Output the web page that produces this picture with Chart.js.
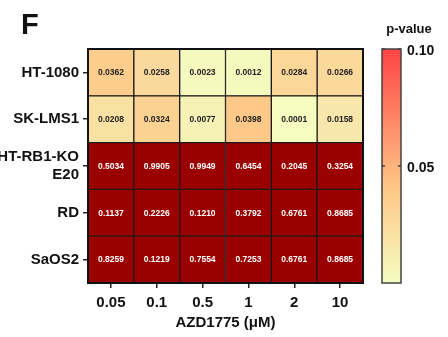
<!DOCTYPE html>
<html>
<head>
<meta charset="utf-8">
<script src="https://cdn.jsdelivr.net/npm/chart.js@4.4.1/dist/chart.umd.min.js"></script>
<style>
  html, body { margin: 0; padding: 0; background: #fff; }
  #wrap { width: 448px; height: 337px; }
</style>
</head>
<body>
<div id="wrap"><canvas id="heat" width="448" height="337"></canvas></div>
<script>
// doses on the x axis, cell lines on the y axis (top to bottom)
var doses = ['0.05', '0.1', '0.5', '1', '2', '10'];
var cellLines = ['HT-1080', 'SK-LMS1', ['HT-RB1-KO', 'E20'], 'RD', 'SaOS2'];

// p-values per cell line, one per dose
var pHT1080 = [0.0362, 0.0258, 0.0023, 0.0012, 0.0284, 0.0266];
var pSKLMS1 = [0.0208, 0.0324, 0.0077, 0.0398, 0.0001, 0.0158];
var pHTRB1KO = [0.5034, 0.9905, 0.9949, 0.6454, 0.2045, 0.3254];
var pRD = [0.1137, 0.2226, 0.1210, 0.3792, 0.6761, 0.8685];
var pSaOS2 = [0.8259, 0.1219, 0.7554, 0.7253, 0.6761, 0.8685];

// colour scale
var scaleMax = 0.10;
var scaleTicks = [0.05, 0.10];
var stopValues = [0, 0.04, 0.10];
var stopColors = ['#f4fcc0', '#fec888', '#ff4444'];
var overColor = '#9b0000';

var rows = [pHT1080, pSKLMS1, pHTRB1KO, pRD, pSaOS2];

function hexToRgb(h) {
    return [parseInt(h.substr(1, 2), 16), parseInt(h.substr(3, 2), 16), parseInt(h.substr(5, 2), 16)];
}

function pColor(p) {
    if (p > scaleMax) return overColor;
    for (let i = 1; i < stopValues.length; i++) {
        if (p <= stopValues[i]) {
            let t = (p - stopValues[i - 1]) / (stopValues[i] - stopValues[i - 1]);
            let a = hexToRgb(stopColors[i - 1]);
            let b = hexToRgb(stopColors[i]);
            let c = a.map(function (v, k) { return Math.round(v + (b[k] - v) * t); });
            return 'rgb(' + c.join(',') + ')';
        }
    }
    return stopColors[stopColors.length - 1];
}

// stacked bars: first dataset sits at the bottom, so reverse the row order
var datasets = [];
for (let r = rows.length - 1; r >= 0; r--) {
    datasets.push({
        label: Array.isArray(cellLines[r]) ? cellLines[r].join(' ') : cellLines[r],
        data: doses.map(function () { return 1; }),
        pvals: rows[r],
        backgroundColor: rows[r].map(pColor),
        borderColor: '#1a1a1a',
        borderWidth: 1,
        borderSkipped: false,
        barPercentage: 1,
        categoryPercentage: 1
    });
}

var font = 'Liberation Sans, Arial, sans-serif';

var cellText = {
    id: 'cellText',
    afterDatasetsDraw: function (chart) {
        let ctx = chart.ctx;
        ctx.save();
        ctx.font = 'bold 8.5px ' + font;
        ctx.textAlign = 'center';
        ctx.textBaseline = 'middle';
        chart.data.datasets.forEach(function (ds, i) {
            chart.getDatasetMeta(i).data.forEach(function (el, j) {
                let p = ds.pvals[j];
                ctx.fillStyle = p > scaleMax ? '#ffffff' : '#222222';
                ctx.fillText(p.toFixed(4), el.x, (el.y + el.base) / 2 + 0.5);
            });
        });
        let a = chart.chartArea;
        ctx.strokeStyle = '#111';
        ctx.lineWidth = 2;
        ctx.strokeRect(a.left, a.top, a.right - a.left, a.bottom - a.top);
        ctx.restore();
    }
};

var colorBar = {
    id: 'colorBar',
    afterDraw: function (chart) {
        let ctx = chart.ctx;
        let a = chart.chartArea;
        let x0 = 382, w = 19;
        let top = a.top, bottom = a.bottom;
        let g = ctx.createLinearGradient(0, bottom, 0, top);
        for (let i = 0; i < stopValues.length; i++) {
            g.addColorStop(stopValues[i] / scaleMax, stopColors[i]);
        }
        ctx.save();
        ctx.fillStyle = g;
        ctx.fillRect(x0, top, w, bottom - top);
        ctx.strokeStyle = '#444';
        ctx.lineWidth = 1.5;
        ctx.strokeRect(x0, top, w, bottom - top);

        ctx.fillStyle = '#111';
        ctx.font = 'bold 14px ' + font;
        ctx.textAlign = 'left';
        ctx.textBaseline = 'middle';
        scaleTicks.forEach(function (v) {
            let y = bottom - (bottom - top) * v / scaleMax;
            ctx.beginPath();
            ctx.moveTo(x0, y); ctx.lineTo(x0 + 3, y);
            ctx.moveTo(x0 + w - 3, y); ctx.lineTo(x0 + w, y);
            ctx.stroke();
            ctx.fillText(v.toFixed(2), x0 + w + 6, y + 2);
        });

        ctx.font = 'bold 13px ' + font;
        ctx.textAlign = 'center';
        ctx.fillText('p-value', 409, 29);

        ctx.font = 'bold 29px ' + font;
        ctx.textAlign = 'left';
        ctx.textBaseline = 'alphabetic';
        ctx.fillText('F', 21, 34);
        ctx.restore();
    }
};

new Chart(document.getElementById('heat'), {
    type: 'bar',
    data: { labels: doses, datasets: datasets },
    options: {
        responsive: false,
        animation: false,
        layout: { padding: { top: 49, right: 85, left: 0, bottom: 0 } },
        plugins: {
            legend: { display: false },
            tooltip: { enabled: false }
        },
        scales: {
            x: {
                stacked: true,
                grid: { display: true, drawOnChartArea: false, offset: false, tickLength: 5, color: '#222', lineWidth: 1.5 },
                border: { display: false },
                ticks: { color: '#111', font: { family: font, size: 15, weight: 'bold' }, padding: 6, maxRotation: 0 },
                title: { display: true, text: 'AZD1775 (\u03bcM)', color: '#111', font: { family: font, size: 15, weight: 'bold' }, padding: { top: 0, bottom: 5 } },
                afterFit: function (s) { s.height = 54; }
            },
            y: {
                stacked: true,
                min: 0,
                max: rows.length,
                grid: { display: true, drawOnChartArea: false, tickLength: 5, color: '#222', lineWidth: 1.5 },
                border: { display: false },
                afterBuildTicks: function (s) {
                    s.ticks = rows.map(function (r, i) { return { value: i + 0.5 }; });
                },
                ticks: {
                    color: '#111',
                    font: { family: font, size: 15, weight: 'bold' },
                    padding: 4,
                    callback: function (v) {
                        return cellLines[rows.length - 1 - Math.floor(v)];
                    }
                },
                afterFit: function (s) { s.width = 88; }
            }
        }
    },
    plugins: [cellText, colorBar]
});
</script>
</body>
</html>
